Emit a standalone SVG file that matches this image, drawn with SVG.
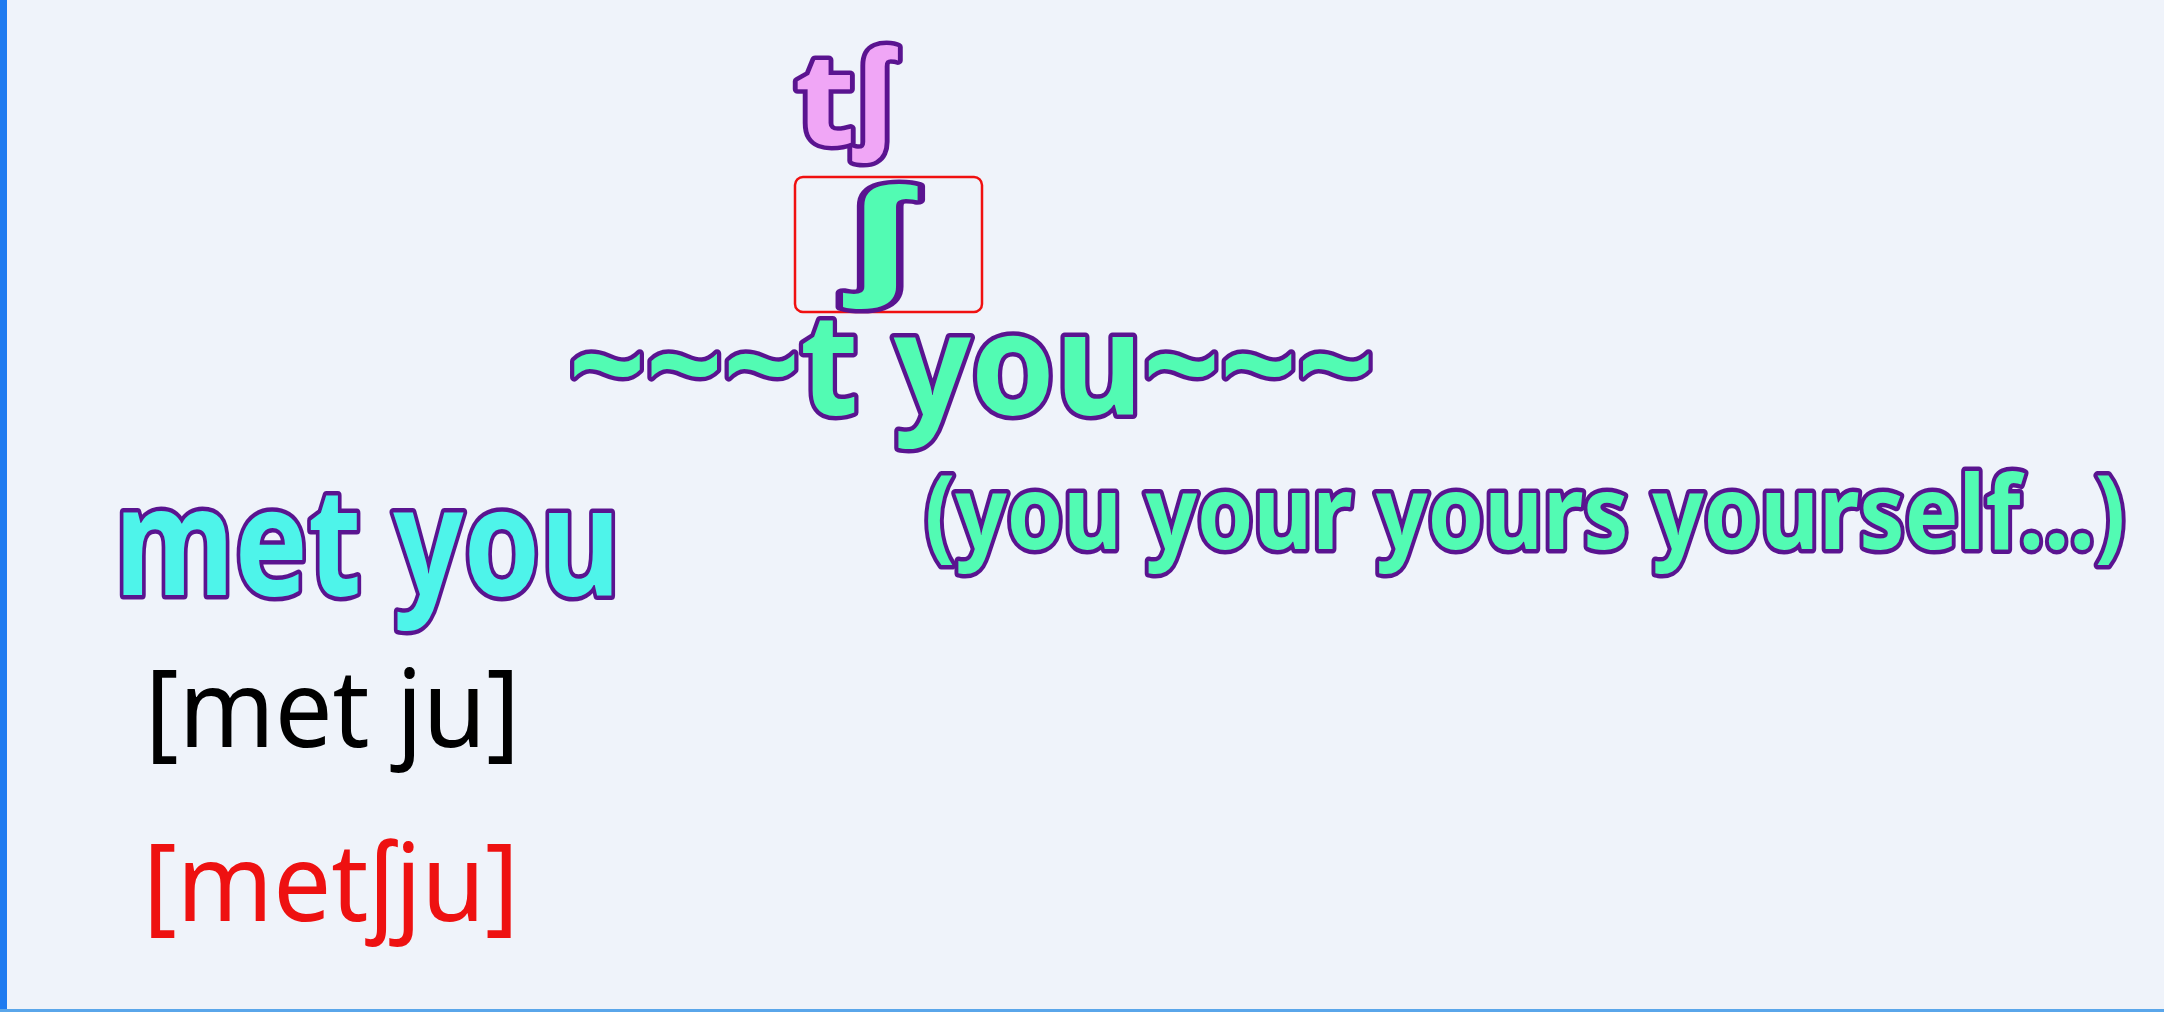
<svg xmlns="http://www.w3.org/2000/svg" width="2164" height="1012" viewBox="0 0 2164 1012">
<style>
.out{font-family:"Noto Sans","Open Sans","Liberation Sans",sans-serif;font-weight:bold;stroke:#5a1490;stroke-width:9;paint-order:stroke;stroke-linejoin:round}
.pink{fill:#f0a6f6}
.green{fill:#52fbb3}
.cyan{fill:#4ef4ea}
.ipa{font-family:"Noto Sans","Open Sans",sans-serif;font-size:108px}
</style>
<rect x="0" y="0" width="2164" height="1012" fill="#eff3fa"/>
<rect x="0" y="0" width="7" height="1012" fill="#1f7bf0"/>
<rect x="0" y="1009" width="2164" height="3" fill="#5aa6ea"/>
<g id="node-tsh">
<text class="out pink" x="794.5" y="145" font-size="116" textLength="100" lengthAdjust="spacingAndGlyphs"><tspan font-size="128">t</tspan><tspan dy="-10">ʃ</tspan></text>
</g>
<g id="node-sh-box">
<rect x="795" y="177" width="187" height="135" rx="8" fill="none" stroke="#f01010" stroke-width="2.5"/>
<text class="out green" x="848" y="279" font-size="124" textLength="64" lengthAdjust="spacingAndGlyphs">ʃ</text>
</g>
<g id="node-t-you">
<text class="out green" x="568.5" y="414.5" font-size="142" textLength="806" lengthAdjust="spacingAndGlyphs">~~~t you~~~</text>
</g>
<g id="node-you-forms">
<text class="out green" x="924.5" y="549" font-size="103" textLength="1201" lengthAdjust="spacingAndGlyphs">(you your yours yourself...)</text>
</g>
<g id="node-met-you">
<text class="out cyan" x="114.5" y="595" font-size="150" textLength="506" lengthAdjust="spacingAndGlyphs">met you</text>
</g>
<g id="node-ipa1">
<text class="ipa" x="145" y="747" fill="#000" textLength="375" lengthAdjust="spacingAndGlyphs">[met ju]</text>
</g>
<g id="node-ipa2">
<text class="ipa" x="143" y="921" fill="#ee1111" textLength="376" lengthAdjust="spacingAndGlyphs">[metʃju]</text>
</g>
<g id="connectors"></g>
</svg>
